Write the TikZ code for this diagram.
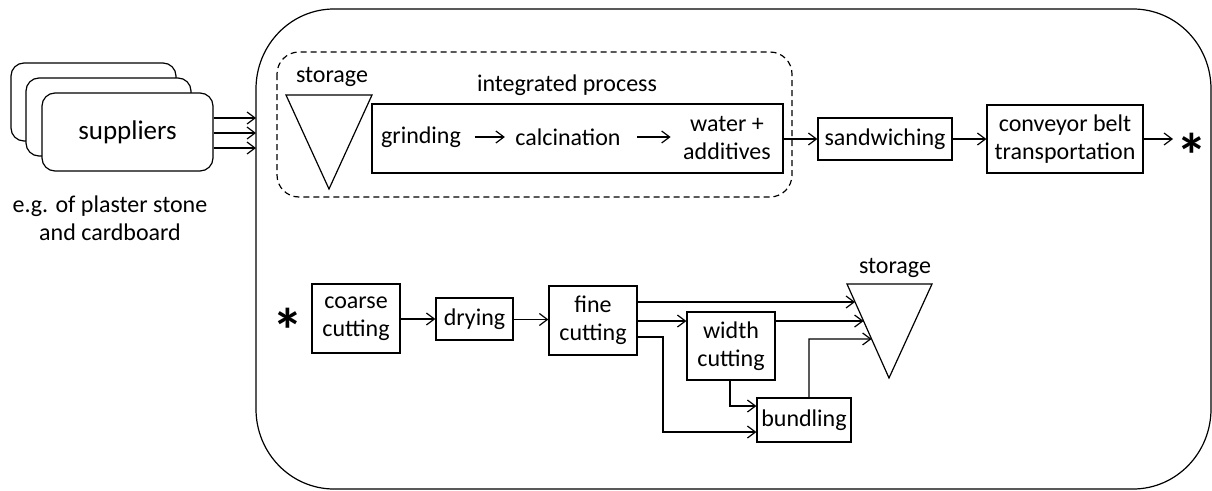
\documentclass[tikz,border=0pt]{standalone}
\usepackage{fontspec}
\setmainfont{Carlito}
\usetikzlibrary{arrows.meta,calc}
\begin{document}
\begin{tikzpicture}[x=1pt,y=-1pt,line width=1.2pt,
  every node/.style={font=\fontsize{24}{28}\selectfont},
  box/.style={draw,line width=1.2pt,align=center,inner sep=0pt,fill=white},
  supbox/.style={draw,line width=1.2pt,rounded corners=13pt,fill=white,minimum width=165pt,minimum height=78pt,inner sep=0pt},
  txt/.style={inner sep=0pt,align=center},
  arr/.style={-{Straight Barb[length=8pt,width=12pt]}},
  starmark/.style={inner sep=0pt,font=\fontsize{62}{62}\bfseries\selectfont}]
\useasboundingbox (0,0) rectangle (1212,490);

% outer frame
\draw (256,89) -- (256,409) arc[start angle=180,end angle=270,x radius=78pt,y radius=80pt]
  -- (1133,489) arc[start angle=270,end angle=360,x radius=78pt,y radius=80pt]
  -- (1211,89) arc[start angle=0,end angle=90,x radius=78pt,y radius=80pt]
  -- (334,9) arc[start angle=90,end angle=180,x radius=78pt,y radius=80pt] -- cycle;
\coordinate (outerL) at (256,300);

% suppliers
\node[supbox] (sup1) at (93.5,102) {};
\node[supbox] (sup2) at (108.5,117) {};
\node[supbox,minimum width=171pt] (sup3) at (127.5,132) {\fontsize{27}{30}\selectfont suppliers};
\node[txt] (eg) at (110,218) {e.g. of plaster stone\\and cardboard};
\foreach \yy in {118,133,148}
  \draw[arr] (sup3.east |- 0,\yy) -- (outerL |- 0,\yy);

% integrated process
\draw[dashed,dash pattern=on 6pt off 4pt,rounded corners=22pt] (277,52) rectangle (792,197);
\coordinate (s1a) at (286,95);
\coordinate (s1b) at (372,95);
\coordinate (s1c) at (329,189);
\draw[line join=miter] (s1a) -- (s1b) -- (s1c) -- cycle;
\node[txt] (st1) at (332,77) {storage};
\node[txt] (ip) at (567,85) {integrated process};
\node[box,minimum width=411pt,minimum height=69pt] (proc) at (577.5,138.5) {};
\node[txt] (grind) at (421,137) {grinding};
\node[txt] (calc) at (568,137) {calcination};
\node[txt] (water) at (727,138) {water +\\additives};
\draw[arr,shorten <=13pt,shorten >=10pt] (grind.east) -- (calc.west);
\draw[arr,shorten <=16pt,shorten >=12pt] (calc.east) -- (water.west |- calc.east);

\node[box,minimum width=134pt,minimum height=42pt] (sand) at (885,139) {sandwiching};
\node[box,minimum width=156pt,minimum height=68pt] (conv) at (1065,139) {conveyor belt\\transportation};
\coordinate (end1) at (1173,139);
\node[starmark] (star1) at (1192,155) {*};
\draw[arr] (proc.east |- sand.west) -- (sand.west);
\draw[arr] (sand.east) -- (conv.west);
\draw[arr] (conv.east) -- (end1);

% lower line
\node[starmark] (star2) at (288,330) {*};
\node[box,minimum width=88pt,minimum height=69pt] (coarse) at (356,318.5) {coarse\\cutting};
\node[box,minimum width=77pt,minimum height=42pt] (dry) at (474.5,319) {drying};
\node[box,minimum width=88pt,minimum height=69pt] (fine) at (593,320.5) {fine\\cutting};
\node[box,minimum width=88pt,minimum height=68pt] (width) at (731,346) {width\\cutting};
\node[box,minimum width=94pt,minimum height=44pt] (bund) at (804,420) {bundling};

\coordinate (s2a) at (847,284);
\coordinate (s2b) at (932,284);
\coordinate (s2c) at (889,378);
\draw[line join=miter] (s2a) -- (s2b) -- (s2c) -- cycle;
\node[txt] (st2) at (895,268) {storage};
\coordinate (ss1) at ($(s2a)!0.1915!(s2c)$);
\coordinate (ss2) at ($(s2a)!0.394!(s2c)$);
\coordinate (ss3) at ($(s2a)!0.585!(s2c)$);

\draw[arr] (coarse.east |- 0,319) -- (dry.west |- 0,319);
\draw[arr] (dry.east |- 0,319.5) -- (fine.west |- 0,319.5);
\draw[arr] (fine.east |- ss1) -- (ss1);
\draw[arr] (fine.east |- 0,321) -- (width.west |- 0,321);
\draw[arr] (fine.east |- 0,337) -- (663,337) -- (663,432) -- (bund.west |- 0,432);
\draw[arr] (width.east |- ss2) -- (ss2);
\draw[arr] (730,380) -- (730,406) -- (bund.west |- 0,406);
\draw[arr] (809,398) -- (809,339) -- (ss3);
\end{tikzpicture}
\end{document}
